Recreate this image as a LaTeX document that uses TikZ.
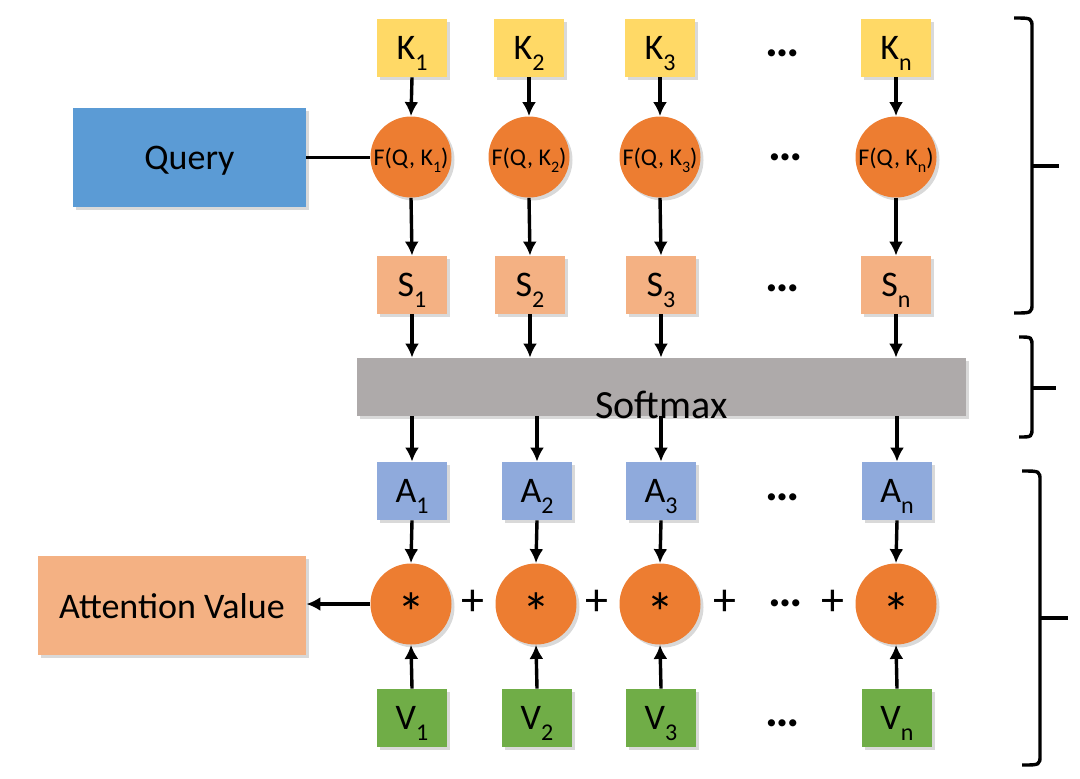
\documentclass[tikz,border=0pt]{standalone}
\usepackage{fontspec}
\setmainfont{Carlito}
\usepackage{tikz}
\usetikzlibrary{arrows.meta}
\usetikzlibrary{shadows}
\definecolor{keyyellow}{HTML}{FFD966}
\definecolor{funcorange}{HTML}{ED7D31}
\definecolor{scorepeach}{HTML}{F4B183}
\definecolor{queryblue}{HTML}{5B9BD5}
\definecolor{softgray}{HTML}{AEAAAA}
\definecolor{weightblue}{HTML}{8FAADC}
\definecolor{valuegreen}{HTML}{70AD47}
\newcommand{\subidx}[1]{\raisebox{-0.3em}{\fontsize{12}{12}\selectfont #1}}
\newcommand{\csubidx}[1]{\raisebox{-0.3em}{\fontsize{8}{8}\selectfont #1}}
\tikzset{mybox/.style={rectangle, minimum width=35pt, minimum height=29pt, inner sep=0pt, text depth=0pt, font=\fontsize{18}{20}\selectfont, drop shadow={shadow xshift=1.5pt, shadow yshift=-1.5pt, opacity=.3}}}
\tikzset{mycircle/.style={circle, fill=funcorange, minimum size=40.5pt, inner sep=0pt, text depth=0pt, drop shadow={shadow xshift=1.5pt, shadow yshift=-1.5pt, opacity=.3}}}
\tikzset{myarrow/.style={line width=1.7pt, -{Latex[length=7pt,width=7pt]}}}
\tikzset{myline/.style={line width=1.7pt}}
\tikzset{mydots/.style={inner sep=0pt, font=\fontsize{24}{26}\selectfont\bfseries}}
\tikzset{myplus/.style={inner sep=0pt, font=\fontsize{23}{25}\selectfont}}

\begin{document}
\begin{tikzpicture}[x=0.5pt, y=-0.5pt]
				\useasboundingbox (0,0) rectangle (1080,778);
				\node[mybox, fill=keyyellow] (k1) at (412,48) {K\subidx{1}};
				\node[mybox, fill=keyyellow] (k2) at (529,48) {K\subidx{2}};
				\node[mybox, fill=keyyellow] (k3) at (660,48) {K\subidx{3}};
				\node[mybox, fill=keyyellow] (kn) at (896,48) {K\subidx{n}};
				%
				\node[mybox, fill=queryblue, minimum width=116.5pt, minimum height=49.5pt] (query) at (189.5,157.5) {Query};
				\node[mycircle, font=\fontsize{12}{14}\selectfont] (f1) at (411,157) {F(Q, K\csubidx{1})};
				\node[mycircle, font=\fontsize{12}{14}\selectfont] (f2) at (529,157) {F(Q, K\csubidx{2})};
				\node[mycircle, font=\fontsize{12}{14}\selectfont] (f3) at (660,157) {F(Q, K\csubidx{3})};
				\node[mycircle, font=\fontsize{12}{14}\selectfont] (fn) at (896,157) {F(Q, K\csubidx{n})};
				%
				\node[mybox, fill=scorepeach] (s1) at (412,285) {S\subidx{1}};
				\node[mybox, fill=scorepeach] (s2) at (530,285) {S\subidx{2}};
				\node[mybox, fill=scorepeach] (s3) at (661,285) {S\subidx{3}};
				\node[mybox, fill=scorepeach] (sn) at (896,285) {S\subidx{n}};
				%
				\node[mybox, fill=softgray, minimum width=304.5pt] (soft) at (661.5,387) {};
				\node[inner sep=0pt, text depth=0pt, font=\fontsize{20}{22}\selectfont] (softtext) at ([yshift=-9pt]soft.center) {Softmax};
				%
				\node[mybox, fill=weightblue] (a1) at (412,491) {A\subidx{1}};
				\node[mybox, fill=weightblue] (a2) at (537,491) {A\subidx{2}};
				\node[mybox, fill=weightblue] (a3) at (661,491) {A\subidx{3}};
				\node[mybox, fill=weightblue] (an) at (897,491) {A\subidx{n}};
				%
				\node[mybox, fill=scorepeach, minimum width=134pt, minimum height=49.5pt] (att) at (172,605.5) {Attention Value};
				\node[mycircle, font=\fontsize{28}{30}\selectfont] (m1) at (411,604) {\raisebox{-0.3em}{*}};
				\node[mycircle, font=\fontsize{28}{30}\selectfont] (m2) at (536,604) {\raisebox{-0.3em}{*}};
				\node[mycircle, font=\fontsize{28}{30}\selectfont] (m3) at (660,604) {\raisebox{-0.3em}{*}};
				\node[mycircle, font=\fontsize{28}{30}\selectfont] (mn) at (896,604) {\raisebox{-0.3em}{*}};
				%
				\node[mybox, fill=valuegreen] (v1) at (412,718) {V\subidx{1}};
				\node[mybox, fill=valuegreen] (v2) at (537,718) {V\subidx{2}};
				\node[mybox, fill=valuegreen] (v3) at (661,718) {V\subidx{3}};
				\node[mybox, fill=valuegreen] (vn) at (897,718) {V\subidx{n}};
				%
				\node[mydots] (dk) at (783,53) {…};
				\node[mydots] (df) at (786,157) {…};
				\node[mydots] (ds) at (783,288) {…};
				\node[mydots] (da) at (783,497) {…};
				\node[mydots] (dm) at (786,603) {…};
				\node[mydots] (dv) at (783,723) {…};
				\node[myplus] (p1) at (473,603) {+};
				\node[myplus] (p2) at (597,603) {+};
				\node[myplus] (p3) at (725,603) {+};
				\node[myplus] (p4) at (833,603) {+};
				%
				\draw[myarrow] (k1.south) -- (f1.north);
				\draw[myarrow] (k2.south) -- (f2.north);
				\draw[myarrow] (k3.south) -- (f3.north);
				\draw[myarrow] (kn.south) -- (fn.north);
				\draw[myline] (query.east) -- (query.east -| f1.west);
				\draw[myarrow] (f1.south) -- (s1.north);
				\draw[myarrow] (f2.south) -- (s2.north);
				\draw[myarrow] (f3.south) -- (s3.north);
				\draw[myarrow] (fn.south) -- (sn.north);
				%
				\draw[myarrow] (s1.south) -- (s1.south |- soft.north);
				\draw[myarrow] (s2.south) -- (s2.south |- soft.north);
				\draw[myarrow] (s3.south) -- (s3.south |- soft.north);
				\draw[myarrow] (sn.south) -- (sn.south |- soft.north);
				\draw[myarrow] (soft.south -| a1.north) -- (a1.north);
				\draw[myarrow] (soft.south -| a2.north) -- (a2.north);
				\draw[myarrow] (soft.south -| a3.north) -- (a3.north);
				\draw[myarrow] (soft.south -| an.north) -- (an.north);
				%
				\draw[myarrow] (a1.south) -- (m1.north);
				\draw[myarrow] (a2.south) -- (m2.north);
				\draw[myarrow] (a3.south) -- (m3.north);
				\draw[myarrow] (an.south) -- (mn.north);
				\draw[myarrow] (v1.north) -- (m1.south);
				\draw[myarrow] (v2.north) -- (m2.south);
				\draw[myarrow] (v3.north) -- (m3.south);
				\draw[myarrow] (vn.north) -- (mn.south);
				\draw[myarrow] (m1.west) -- (m1.west -| att.east);
				%
				\draw[myline] (1014,18) .. controls (1032,18) .. (1032,28) -- (1032,303) .. controls (1032,313) .. (1014,313);
				\draw[myline] (1032,166) -- (1059,166);
				\draw[myline] (1019,337) .. controls (1032,337) .. (1032,347) -- (1032,427) .. controls (1032,437) .. (1019,437);
				\draw[myline] (1032,388) -- (1056,388);
				\draw[myline] (1022,471) .. controls (1040,471) .. (1040,481) -- (1040,755) .. controls (1040,765) .. (1022,765);
				\draw[myline] (1040,618) -- (1068,618);
			\end{tikzpicture}
\end{document}
